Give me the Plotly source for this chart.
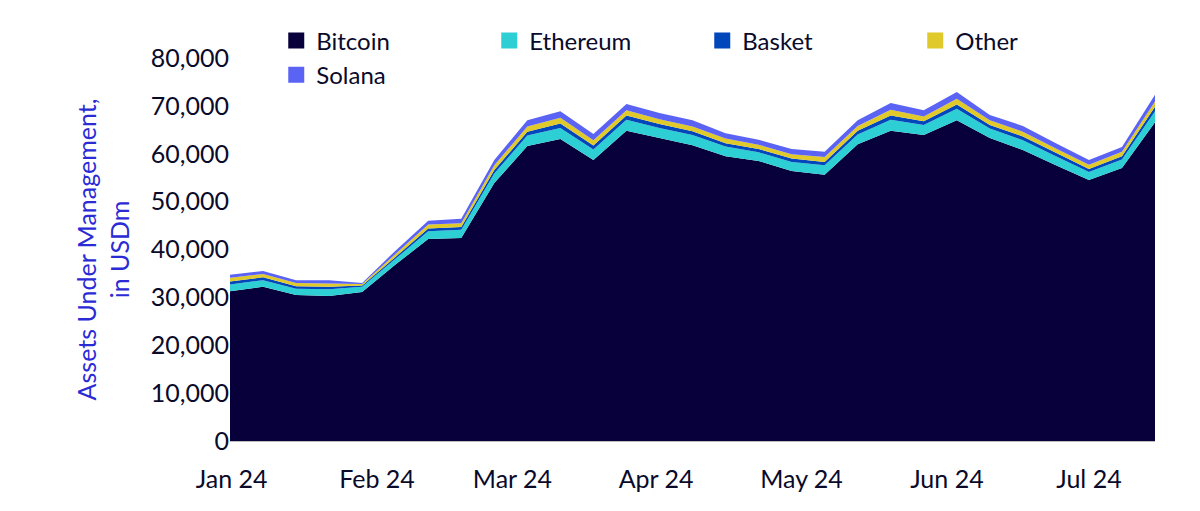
import plotly.graph_objects as go

# Weekly AUM, in USDm
weeks = list(range(29))
bitcoin = [31300, 32200, 30500, 30300, 31100, 36800, 42200, 42400, 53900, 61600,
           63100, 58700, 64800, 63300, 61800, 59500, 58500, 56400, 55600, 62000,
           64800, 63900, 67000, 63300, 60800, 57600, 54500, 57000, 66600]
ethereum = [1400, 1400, 1300, 1400, 1100, 1200, 1600, 1700, 2000, 2200,
            2300, 2200, 2300, 2100, 2100, 2000, 1800, 1900, 2000, 2000,
            2300, 2100, 2400, 2000, 2000, 1900, 1700, 1800, 2300]
basket = [600, 600, 500, 500, 300, 400, 600, 600, 700, 800,
          900, 800, 900, 800, 800, 700, 700, 700, 700, 800,
          900, 800, 900, 700, 800, 700, 600, 700, 900]
other = [800, 700, 700, 700, 300, 600, 800, 800, 1000, 1100,
         1200, 1100, 1100, 1000, 1000, 1000, 900, 900, 1000, 1000,
         1200, 1000, 1200, 1000, 1000, 900, 900, 900, 1100]
solana = [600, 600, 600, 700, 200, 700, 800, 900, 1100, 1300,
          1400, 1300, 1300, 1300, 1300, 1100, 1000, 1100, 1100, 1200,
          1400, 1300, 1400, 1100, 1200, 1100, 1000, 1000, 1400]

month_pos = [0.05, 4.45, 8.55, 12.9, 17.3, 21.7, 26.0]
month_labels = ['Jan 24', 'Feb 24', 'Mar 24', 'Apr 24', 'May 24', 'Jun 24', 'Jul 24']

series = [('Bitcoin', bitcoin, '#07003a'), ('Ethereum', ethereum, '#2ecfd4'),
          ('Basket', basket, '#0047bb'), ('Other', other, '#e0c92a'),
          ('Solana', solana, '#5b63f5')]

fig = go.Figure()
for name, vals, color in series:
    fig.add_trace(go.Scatter(x=weeks, y=vals, name=name, stackgroup='aum',
                             mode='none', fillcolor=color, showlegend=False))
# square legend swatches
for name, vals, color in series:
    fig.add_trace(go.Scatter(x=[None], y=[None], name=name, mode='markers',
                             marker=dict(symbol='square', size=16, color=color)))

fig.update_layout(
    width=1200, height=511, plot_bgcolor='white', paper_bgcolor='white',
    margin=dict(l=222, r=53, t=50, b=78, autoexpand=False),
    font=dict(family='Lato', size=25, color='#0a0a2a'),
    showlegend=True,
    legend=dict(orientation='h', x=0.05, y=1.0, xanchor='left', yanchor='middle',
                traceorder='normal', entrywidth=168, itemwidth=30,
                font=dict(size=24), bgcolor='rgba(0,0,0,0)'),
    xaxis=dict(range=[0, 28], tickvals=month_pos, ticktext=month_labels,
               showgrid=False, zeroline=False, showline=True, linecolor='#bbbbbb',
               ticks='', ticklabelstandoff=16, automargin=False),
    yaxis=dict(range=[0, 80000], dtick=10000, tickformat=',', showgrid=False,
               zeroline=False, showline=False, automargin=False,
               title=dict(text='Assets Under Management,<br>in USDm',
                          font=dict(color='#2b2bd6', size=25), standoff=14)),
)

fig.write_html("out.html")
